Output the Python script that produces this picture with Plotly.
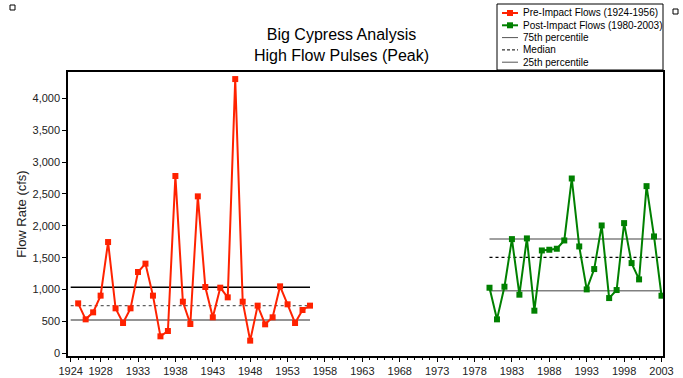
import plotly.graph_objects as go

# --- data ---
pre_years = list(range(1925, 1957))
pre_flow = [784, 533, 643, 905, 1746, 706, 476, 706, 1276, 1407, 905, 267, 350,
            2782, 810, 460, 2463, 1041, 565, 1030, 878, 4303, 810, 199, 748, 455,
            565, 1051, 769, 476, 680, 748]
post_years = list(range(1980, 2004))
post_flow = [1029, 533, 1045, 1792, 920, 1803, 669, 1614, 1625, 1641, 1771, 2743,
             1677, 1003, 1322, 2006, 867, 993, 2043, 1416, 1160, 2623, 1834, 904]

pre_span = [1924, 1956]
post_span = [1980, 2003]
pre_pct = {"p75": 1035, "p50": 748, "p25": 523}
post_pct = {"p75": 1792, "p50": 1505, "p25": 982}

xtick_vals = [1924, 1928, 1933, 1938, 1943, 1948, 1953, 1958, 1963, 1968,
              1973, 1978, 1983, 1988, 1993, 1998, 2003]

RED = "#FF2200"
GREEN = "#008000"
FONT = "Liberation Sans, Arial, sans-serif"

W, H = 683, 378
L, R, T, B = 68, 20, 72, 22
PW, PH = W - L - R, H - T - B


def px(x):
    return (x - L) / PW


def py(y):
    return (H - B - y) / PH


fig = go.Figure()

# percentile lines (behind the series)
for span, pct, cols in ((pre_span, pre_pct, ("#000000", "#606060", "#707070")),
                        (post_span, post_pct, ("#808080", "#000000", "#808080"))):
    for key, col in zip(("p75", "p50", "p25"), cols):
        fig.add_trace(go.Scatter(
            x=span, y=[pct[key]] * 2, mode="lines",
            line=dict(color=col, width=1.5 if key != "p50" else 1.3,
                      dash="3px,3px" if key == "p50" else "solid"),
            showlegend=False, hoverinfo="skip",
        ))

for xs, ys, col in ((pre_years, pre_flow, RED), (post_years, post_flow, GREEN)):
    fig.add_trace(go.Scatter(
        x=xs, y=ys, mode="lines+markers",
        line=dict(color=col, width=2),
        marker=dict(symbol="square", size=6, color=col),
        showlegend=False,
    ))

# hand-built legend box (rows are tighter than plotly's native legend allows)
shapes = [dict(type="rect", xref="paper", yref="paper",
               x0=px(497), x1=px(663), y0=py(70), y1=py(4),
               line=dict(color="black", width=1), fillcolor="white")]
annotations = []
rows = [("Pre-Impact Flows (1924-1956)", RED, "solid", True),
        ("Post-Impact Flows (1980-2003)", GREEN, "solid", True),
        ("75th percentile", "#555555", "solid", False),
        ("Median", "#000000", "dash", False),
        ("25th percentile", "#555555", "solid", False)]
for i, (label, col, dash, mk) in enumerate(rows):
    yy = 13 + i * 12.3
    shapes.append(dict(type="line", xref="paper", yref="paper",
                       x0=px(502), x1=px(518), y0=py(yy), y1=py(yy),
                       line=dict(color=col, width=2 if mk else 1,
                                 dash="3px,2px" if dash == "dash" else "solid")))
    if mk:
        shapes.append(dict(type="rect", xref="paper", yref="paper",
                           x0=px(507), x1=px(513), y0=py(yy + 3), y1=py(yy - 3),
                           line=dict(width=0), fillcolor=col))
    annotations.append(dict(xref="paper", yref="paper", x=px(521), y=py(yy),
                            xanchor="left", yanchor="middle", showarrow=False,
                            text=label, font=dict(size=10, color="black", family=FONT)))

# the two little squares in the corners
for x0, y0 in ((10, 5), (673, 9)):
    shapes.append(dict(type="rect", xref="paper", yref="paper",
                       x0=px(x0), x1=px(x0 + 5), y0=py(y0 + 5), y1=py(y0),
                       line=dict(color="black", width=1), fillcolor="white"))

fig.update_layout(
    width=W, height=H,
    margin=dict(l=L, r=R, t=T, b=B),
    paper_bgcolor="white", plot_bgcolor="white",
    font=dict(family=FONT, color="#222222"),
    title=dict(text="Big Cypress Analysis<br>High Flow Pulses (Peak)",
               x=0.5, xanchor="center", y=0.893, yanchor="top",
               font=dict(size=16, color="black")),
    shapes=shapes, annotations=annotations,
    showlegend=False,
)
fig.update_xaxes(
    range=[1923.64, 2003.2], tickvals=xtick_vals, ticks="outside", ticklen=4,
    tickcolor="black", tickfont=dict(size=11), showgrid=False, zeroline=False,
    showline=True, linecolor="black", linewidth=1.5, mirror=True, automargin=False,
    minor=dict(tick0=1924, dtick=1, ticks="outside", ticklen=2, tickcolor="black"),
)
fig.update_yaxes(
    range=[-42, 4414], tickvals=list(range(0, 4001, 500)), tickformat=",",
    ticks="outside", ticklen=4, tickcolor="black", tickfont=dict(size=11),
    showgrid=False, zeroline=False, showline=True, linecolor="black",
    linewidth=1.5, mirror=True, automargin=False,
    title=dict(text="Flow Rate (cfs)", font=dict(size=13, color="#222222"), standoff=3),
)

fig.write_html("out.html", config={"displayModeBar": False},
               post_script="document.body.style.margin='0';")
